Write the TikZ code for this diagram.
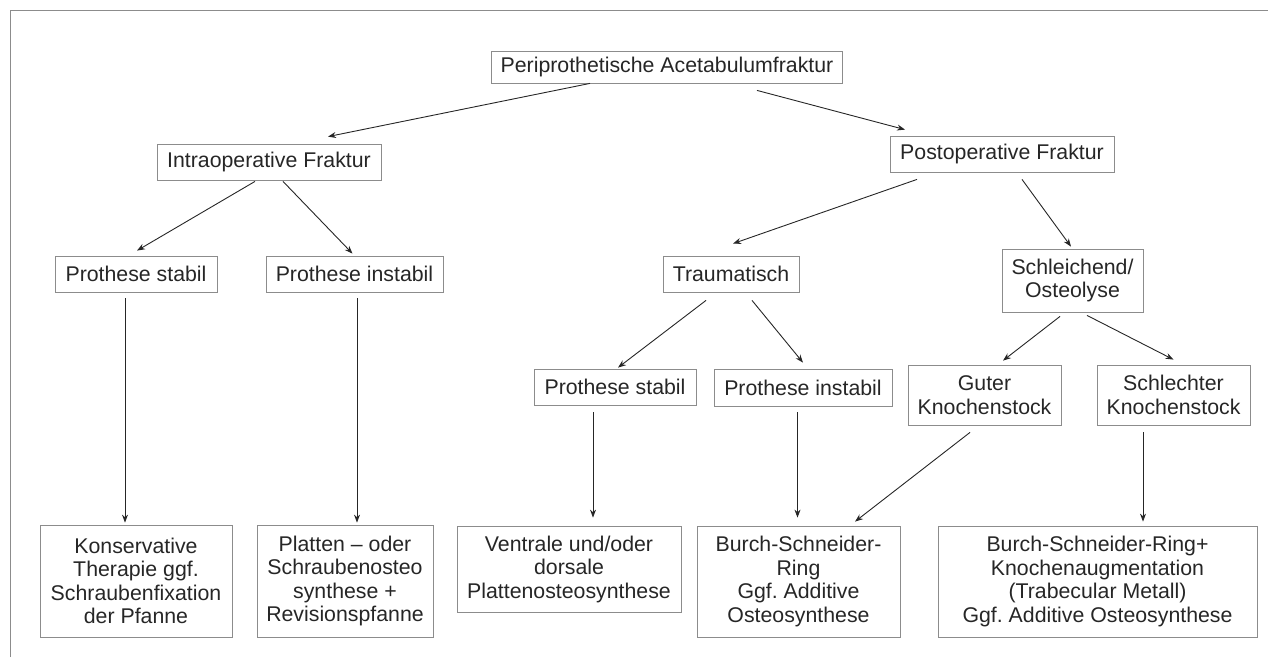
\documentclass[tikz,border=0pt]{standalone}
\usepackage{fontspec}
\setmainfont{Liberation Sans}
\usetikzlibrary{calc,arrows.meta}
\definecolor{boxgray}{gray}{0.55}
\definecolor{ink}{gray}{0.15}
\frenchspacing
\begin{document}
\begin{tikzpicture}[x=1pt, y=-1pt, >={Stealth[length=8pt,width=6pt]},
	font=\fontsize{21.3}{23.5}\selectfont,
	box/.style={draw=boxgray, line width=0.8pt, text=ink, align=center, inner sep=0pt},
	arr/.style={->, draw=ink, line width=0.9pt}]
				\useasboundingbox (0,0) rectangle (1268,657);
				% frame of the figure
				\draw[boxgray, line width=1pt] (10,657) -- (10,10) -- (1268,10);
				% first and second level
				\node[box, minimum width=351, minimum height=32] (top) at (667,67) {Periprothetische Acetabulumfraktur};
				\node[box, minimum width=224, minimum height=36] (intra) at (269,162) {Intraoperative Fraktur};
				\node[box, minimum width=224, minimum height=36] (post) at (1002,154) {Postoperative Fraktur};
				% third level
				\node[box, minimum width=162, minimum height=36] (stabA) at (136,274) {Prothese stabil};
				\node[box, minimum width=177, minimum height=36] (instabA) at (354.5,274) {Prothese instabil};
				\node[box, minimum width=136, minimum height=36] (trauma) at (731,274) {Traumatisch};
				\node[box, minimum width=141, minimum height=63] (schleich) at (1072.5,280.5) {Schleichend/\\Osteolyse};
				% fourth level
				\node[box, minimum width=162, minimum height=36] (stabB) at (615,387) {Prothese stabil};
				\node[box, minimum width=178, minimum height=37] (instabB) at (803,387.5) {Prothese instabil};
				\node[box, minimum width=153, minimum height=60] (gut) at (984.5,395) {Guter\\Knochenstock};
				\node[box, minimum width=153, minimum height=60] (schlecht) at (1173.5,395) {Schlechter\\Knochenstock};
				% therapies
				\node[box, minimum width=192, minimum height=112] (konserv) at (136,581) {Konservative\\Therapie ggf.\\Schraubenfixation\\der Pfanne};
				\node[box, minimum width=176, minimum height=112] (platten) at (345,581) {Platten -- oder\\Schraubenosteo\\synthese +\\Revisionspfanne};
				\node[box, minimum width=224, minimum height=86] (ventral) at (569,569) {Ventrale und/oder\\dorsale\\Plattenosteosynthese};
				\node[box, minimum width=203, minimum height=111] (burch) at (798.5,581.5) {Burch-Schneider-\\Ring\\Ggf. Additive\\Osteosynthese};
				\node[box, minimum width=319, minimum height=111] (burchaug) at (1097.5,581.5) {Burch-Schneider-Ring+\\Knochenaugmentation\\(Trabecular Metall)\\Ggf. Additive Osteosynthese};
				% arrows
				\draw[arr] ($(top.south)+(-77,0)$) -- ($(intra.north)+(59,-7)$);
				\draw[arr] ($(top.south)+(90,7)$) -- ($(post.north)+(-97,-6)$);
				\draw[arr] ($(intra.south)+(-14,1)$) -- ($(stabA.north)+(1,-5)$);
				\draw[arr] ($(intra.south)+(14,1)$) -- ($(instabA.north)+(-2,-2)$);
				\draw[arr] ($(stabA.south)+(-11,6)$) -- ($(konserv.north)+(-11,-2)$);
				\draw[arr] ($(instabA.south)+(2.5,6)$) -- ($(platten.north)+(12,-2)$);
				\draw[arr] ($(post.south)+(-85,7)$) -- ($(trauma.north)+(2,-12)$);
				\draw[arr] ($(post.south)+(20,7)$) -- ($(schleich.north)+(-1.5,-2)$);
				\draw[arr] ($(trauma.south)+(-25,8)$) -- ($(stabB.north)+(3,-1)$);
				\draw[arr] ($(trauma.south)+(21,8)$) -- ($(instabB.north)+(0,-6)$);
				\draw[arr] ($(schleich.south)+(-12.5,4)$) -- ($(gut.north)+(18.5,-4)$);
				\draw[arr] ($(schleich.south)+(14.5,3)$) -- ($(schlecht.north)+(0,-5)$);
				\draw[arr] ($(stabB.south)+(-22,7)$) -- ($(ventral.north)+(24,-8)$);
				\draw[arr] ($(instabB.south)+(-5.5,6)$) -- ($(burch.north)+(-1,-8)$);
				\draw[arr] ($(gut.south)+(-14.5,7)$) -- ($(burch.north)+(56.5,-4)$);
				\draw[arr] ($(schlecht.south)+(-30.5,7)$) -- ($(burchaug.north)+(45.5,-4)$);
			\end{tikzpicture}
\end{document}
